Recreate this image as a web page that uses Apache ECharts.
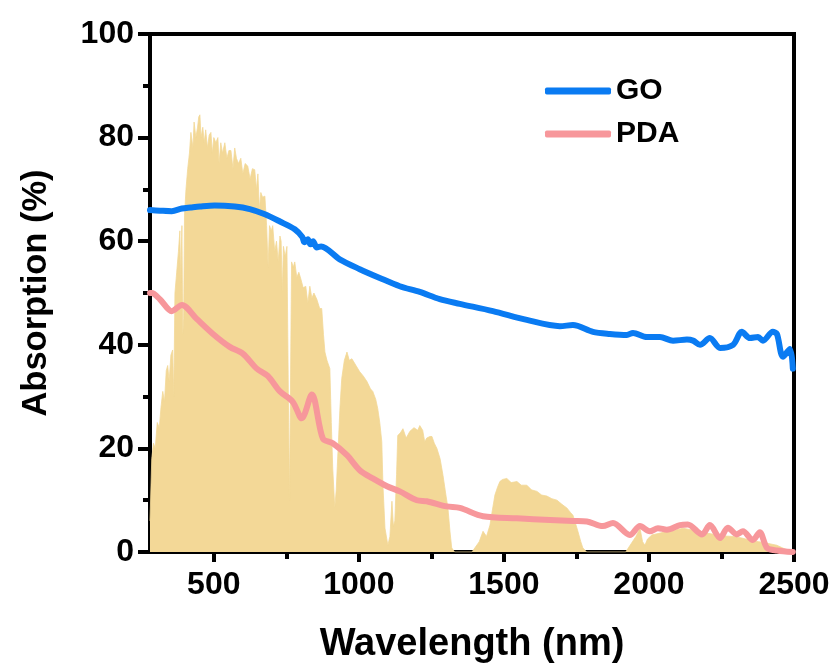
<!DOCTYPE html>
<html>
<head>
<meta charset="utf-8">
<script src="https://cdn.jsdelivr.net/npm/echarts@6/dist/echarts.min.js"></script>
<style>
html,body{margin:0;padding:0;background:#fff;}
#chart{width:837px;height:669px;}
</style>
</head>
<body>
<div id="chart"></div>
<script>
// ---- data ----
var xMajorTicks = [500, 1000, 1500, 2000, 2500];
var xMinorTicks = [750, 1250, 1750, 2250];

var goNm = [280, 314, 355, 390, 420, 452, 503, 572, 624, 676, 728, 779, 805, 812, 824, 833, 842, 855, 870, 934, 1003, 1072, 1141, 1210, 1279, 1348, 1462, 1579, 1693, 1738, 1807, 1865, 1924, 1945, 1993, 2038, 2083, 2131, 2152, 2176, 2210, 2245, 2290, 2320, 2348, 2376, 2393, 2427, 2441, 2462, 2486, 2496];
var goVal = [66.0, 65.9, 65.8, 66.3, 66.5, 66.7, 66.9, 66.7, 66.2, 65.2, 63.8, 62.3, 60.8, 59.8, 60.4, 59.4, 60.0, 58.8, 59.0, 56.5, 54.6, 52.9, 51.3, 50.2, 48.8, 47.9, 46.5, 44.8, 43.6, 43.8, 42.5, 42.1, 41.9, 42.3, 41.5, 41.5, 40.8, 41.0, 40.8, 40.0, 41.3, 39.4, 40.0, 42.5, 41.3, 41.5, 40.8, 42.5, 42.1, 37.7, 39.2, 35.4];

var pdaNm = [280, 286, 314, 355, 390, 441, 497, 555, 600, 648, 686, 728, 772, 803, 838, 876, 910, 959, 1003, 1048, 1097, 1141, 1200, 1234, 1303, 1348, 1428, 1545, 1659, 1738, 1786, 1841, 1876, 1934, 1969, 2003, 2031, 2062, 2107, 2134, 2183, 2210, 2245, 2272, 2303, 2324, 2358, 2382, 2407, 2441, 2496];
var pdaVal = [50.0, 50.0, 48.8, 46.5, 47.7, 45.0, 42.1, 39.6, 38.3, 35.4, 34.0, 31.0, 29.0, 25.8, 30.4, 21.9, 21.0, 18.7, 15.8, 14.2, 12.7, 11.7, 10.0, 9.8, 8.8, 8.5, 6.9, 6.5, 6.2, 6.0, 5.9, 5.0, 5.6, 3.3, 5.0, 4.0, 4.6, 4.3, 5.2, 5.3, 3.4, 5.2, 2.7, 4.7, 3.4, 4.0, 2.3, 3.8, 0.8, 0.3, 0.0];

var solarNm = [280, 286, 292, 298, 305, 312, 318, 324, 330, 336, 341, 346, 352, 358, 362, 366, 372, 378, 383, 386, 390, 393, 396, 399, 404, 410, 416, 421, 428, 432, 438, 444, 448, 452, 456, 462, 467, 472, 478, 484, 490, 495, 500, 507, 514, 518, 524, 530, 538, 545, 552, 559, 566, 572, 578, 585, 593, 600, 608, 617, 625, 633, 641, 647, 652, 657, 662, 668, 676, 682, 687, 692, 698, 703, 710, 716, 722, 728, 732, 736, 740, 746, 752, 757, 761, 764, 768, 774, 779, 786, 793, 800, 808, 817, 824, 831, 838, 845, 855, 865, 872, 878, 883, 890, 900, 905, 910, 917, 922, 928, 935, 941, 950, 959, 967, 976, 990, 1003, 1015, 1028, 1040, 1048, 1058, 1065, 1072, 1079, 1083, 1090, 1100, 1107, 1114, 1119, 1124, 1130, 1134, 1143, 1152, 1163, 1176, 1190, 1203, 1210, 1220, 1227, 1234, 1245, 1252, 1260, 1269, 1280, 1290, 1300, 1307, 1314, 1320, 1330, 1390, 1400, 1415, 1428, 1440, 1452, 1460, 1469, 1478, 1486, 1495, 1510, 1525, 1545, 1560, 1579, 1595, 1614, 1630, 1648, 1665, 1683, 1700, 1717, 1730, 1738, 1747, 1755, 1765, 1772, 1785, 1920, 1935, 1955, 1969, 1978, 1986, 1995, 2010, 2035, 2062, 2090, 2117, 2145, 2176, 2205, 2234, 2260, 2290, 2320, 2348, 2378, 2407, 2441, 2476, 2500];
var solarVal = [6, 18, 21, 20, 25, 24, 28, 31, 29, 35, 36, 33, 38, 39, 30, 50, 54, 58, 62, 52, 63, 42, 45, 65, 70, 74, 77, 81, 78, 83, 80, 82, 84, 84.4, 80, 82, 79, 81.5, 78, 80.5, 81, 77, 80, 79, 80, 75, 79, 77, 79, 76, 77.5, 77.5, 74, 78, 76, 75, 76, 73, 75, 74.5, 72, 74, 73.8, 70, 73, 66, 69.4, 68.5, 68.7, 63, 55, 63, 62, 63, 58, 60, 56, 61, 60, 50, 59, 57, 59, 30, 10, 30, 56, 55, 56, 53, 54, 52.7, 51, 51.3, 48, 51.3, 49, 50, 48.8, 47, 47, 42, 38.6, 37, 35.4, 25, 16, 8.5, 12, 19.4, 28, 33.5, 37, 38.6, 37, 37.3, 36, 34.8, 34, 32.9, 31.5, 31, 29.5, 27.7, 25, 21.3, 12.9, 4.6, 1.3, 3, 9.8, 5, 6, 15, 22.5, 23, 23.8, 22, 23.3, 24, 23.5, 24.4, 23.5, 21.3, 22, 22.3, 22.3, 21, 20, 18, 14.8, 11, 8.5, 4, 0.8, 0, 0, 0.8, 2, 4, 3, 5.2, 8, 11, 12.5, 13.6, 14, 14.2, 13.4, 13.6, 12.9, 12.9, 12, 11.7, 11, 10.8, 10.3, 10, 9.2, 8.5, 7.6, 7.1, 5.5, 4, 2, 0.8, 0, 0, 1.3, 3, 4.6, 2, 1.3, 2.5, 3.3, 3.6, 4, 4.2, 4.6, 4.3, 4, 3.6, 3.3, 3.1, 3, 2.7, 2.3, 2, 1.7, 1.3, 0.4, 0];

function pairs(xs, ys) { return xs.map(function (x, i) { return [x, ys[i]]; }); }

var FONT = '"Liberation Sans", Arial, sans-serif';
var chart = echarts.init(document.getElementById('chart'), null, {renderer: 'canvas'});

var option = {
  backgroundColor: '#fff',
  animation: false,
  grid: {left: 150, right: 43, top: 34, bottom: 115, show: true, borderColor: '#000', borderWidth: 4, backgroundColor: 'transparent'},
  legend: {
    orient: 'vertical', left: 545, top: 74, padding: 0, itemWidth: 66, itemHeight: 7, itemGap: 9,
    icon: 'roundRect',
    data: ['GO', 'PDA'],
    textStyle: {fontFamily: FONT, fontWeight: 'bold', fontSize: 30, color: '#000', lineHeight: 34}
  },
  xAxis: [{
    type: 'value', min: 280, max: 2500, position: 'bottom',
    name: 'Wavelength (nm)', nameLocation: 'middle', nameGap: 74,
    nameTextStyle: {fontFamily: FONT, fontWeight: 'bold', fontSize: 38, color: '#000'},
    axisLine: {show: true, onZero: false, lineStyle: {color: '#000', width: 4}},
    axisTick: {show: true, inside: false, length: 10, lineStyle: {color: '#000', width: 4}, customValues: xMajorTicks},
    axisLabel: {show: true, margin: 17, fontFamily: FONT, fontWeight: 'bold', fontSize: 32, color: '#000', customValues: xMajorTicks,
      formatter: function (v) { return String(v); }},
    splitLine: {show: false}
  }, {
    type: 'value', min: 280, max: 2500, position: 'bottom',
    axisLine: {show: false},
    axisTick: {show: true, inside: false, length: 7, lineStyle: {color: '#000', width: 4}, customValues: xMinorTicks},
    axisLabel: {show: false},
    splitLine: {show: false}
  }],
  yAxis: {
    type: 'value', min: 0, max: 100, interval: 20,
    name: 'Absorption (%)', nameLocation: 'middle', nameGap: 96,
    nameTextStyle: {fontFamily: FONT, fontWeight: 'bold', fontSize: 34.5, color: '#000'},
    axisLine: {show: true, lineStyle: {color: '#000', width: 4}},
    axisTick: {show: true, inside: false, length: 12, lineStyle: {color: '#000', width: 4}},
    minorTick: {show: true, splitNumber: 2, length: 7, lineStyle: {color: '#000', width: 4}},
    axisLabel: {margin: 16, fontFamily: FONT, fontWeight: 'bold', fontSize: 32, color: '#000',
      formatter: function (v) { return String(v); }},
    splitLine: {show: false}
  },
  series: [{
    name: 'AM1.5', type: 'line', xAxisIndex: 0, data: pairs(solarNm, solarVal),
    symbol: 'none', silent: true, z: 1,
    lineStyle: {width: 0.8, color: '#f3d897'},
    areaStyle: {color: '#f3d897', opacity: 1}
  }, {
    name: 'GO', type: 'line', xAxisIndex: 0, data: pairs(goNm, goVal), symbol: 'none', z: 3,
    smooth: 0.3,
    itemStyle: {color: '#0a7bf2'},
    lineStyle: {width: 6, color: '#0a7bf2', cap: 'round', join: 'round'}
  }, {
    name: 'PDA', type: 'line', xAxisIndex: 0, data: pairs(pdaNm, pdaVal), symbol: 'none', z: 3,
    smooth: 0.3,
    itemStyle: {color: '#f7979b'},
    lineStyle: {width: 6, color: '#f7979b', cap: 'round', join: 'round'}
  }]
};
chart.setOption(option);
</script>
</body>
</html>
